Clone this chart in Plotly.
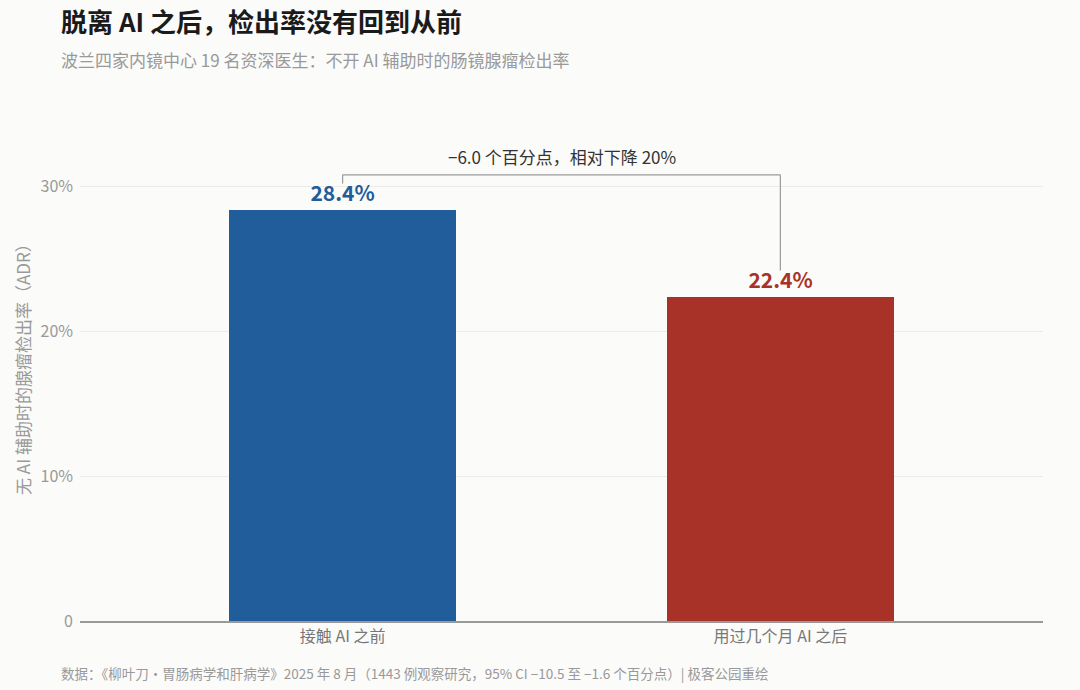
import plotly.graph_objects as go

# Data
categories = ['接触 AI 之前', '用过几个月 AI 之后']
adr = [0.284, 0.224]
bar_colors = ['#215d9a', '#a83228']
y_ticks = [0, 0.1, 0.2, 0.3]
y_tick_labels = ['0', '10%', '20%', '30%']
diff_label = '−6.0 个百分点，相对下降 20%'

font_family = 'Noto Sans CJK SC, Noto Sans, sans-serif'

fig = go.Figure()

fig.add_trace(go.Bar(
    x=[0, 1],
    y=adr,
    width=0.52,
    marker=dict(color=bar_colors, line=dict(width=0)),
    text=[f'<b>{v * 100:.1f}%</b>' for v in adr],
    textposition='outside',
    textfont=dict(size=21, color=bar_colors, family=font_family),
    cliponaxis=False,
    hoverinfo='skip',
))

# bracket showing the difference
top = max(adr) + 0.024
leg_ends = [v + 0.018 for v in adr]
line_style = dict(color='#9a9a9a', width=1.2)
fig.add_shape(type='line', x0=0, x1=1, y0=top, y1=top, xref='x', yref='y', line=line_style)
fig.add_shape(type='line', x0=0, x1=0, y0=top, y1=leg_ends[0], xref='x', yref='y', line=line_style)
fig.add_shape(type='line', x0=1, x1=1, y0=top, y1=leg_ends[1], xref='x', yref='y', line=line_style)
fig.add_annotation(
    x=0.5, y=top, xref='x', yref='y',
    text=diff_label,
    showarrow=False, yanchor='bottom', yshift=4,
    font=dict(size=17, color='#333333', family=font_family),
)

# title, subtitle, footer (pixel positions converted to paper coords)
plot_w, plot_h, plot_bottom, plot_left = 963, 478, 621, 80


def px_x(px):
    return (px - plot_left) / plot_w


def px_y(py):
    return (plot_bottom - py) / plot_h


fig.add_annotation(
    text='<b>脱离 AI 之后，检出率没有回到从前</b>',
    xref='paper', yref='paper', x=px_x(59), y=px_y(20),
    xanchor='left', yanchor='middle', showarrow=False,
    font=dict(size=26, color='#1a1a1a', family=font_family),
)
fig.add_annotation(
    text='波兰四家内镜中心 19 名资深医生：不开 AI 辅助时的肠镜腺瘤检出率',
    xref='paper', yref='paper', x=px_x(59), y=px_y(59),
    xanchor='left', yanchor='middle', showarrow=False,
    font=dict(size=17, color='#999999', family=font_family),
)
fig.add_annotation(
    text='数据：《柳叶刀·胃肠病学和肝病学》2025 年 8 月（1443 例观察研究，95% CI −10.5 至 −1.6 个百分点）| 极客公园重绘',
    xref='paper', yref='paper', x=px_x(59), y=px_y(673),
    xanchor='left', yanchor='middle', showarrow=False,
    font=dict(size=13.5, color='#999999', family=font_family),
)
# y axis title
fig.add_annotation(
    text='无 AI 辅助时的腺瘤检出率（ADR）',
    xref='paper', yref='paper', x=px_x(22), y=px_y(365),
    xanchor='center', yanchor='middle', showarrow=False, textangle=-90,
    font=dict(size=17, color='#999999', family=font_family),
)

fig.update_layout(
    width=1080,
    height=690,
    margin=dict(l=80, r=37, t=143, b=69),
    paper_bgcolor='#fbfbf9',
    plot_bgcolor='#fbfbf9',
    showlegend=False,
    bargap=0,
    font=dict(family=font_family),
)

fig.update_xaxes(
    range=[-0.6, 1.6],
    tickvals=[0, 1],
    ticktext=categories,
    tickfont=dict(size=16, color='#777777'),
    showgrid=False,
    showline=True,
    linecolor='#999999',
    linewidth=1.5,
    ticks='',
    zeroline=False,
)

fig.update_yaxes(
    range=[0, 0.33],
    tickvals=y_ticks,
    ticktext=y_tick_labels,
    tickfont=dict(size=16, color='#999999'),
    showgrid=True,
    gridcolor='#ebebea',
    gridwidth=1,
    zeroline=False,
    showline=False,
    ticks='',
    ticklabelstandoff=6,
)

fig.write_html('out.html', config={'displayModeBar': False},
               post_script="document.body.style.margin='0';")
